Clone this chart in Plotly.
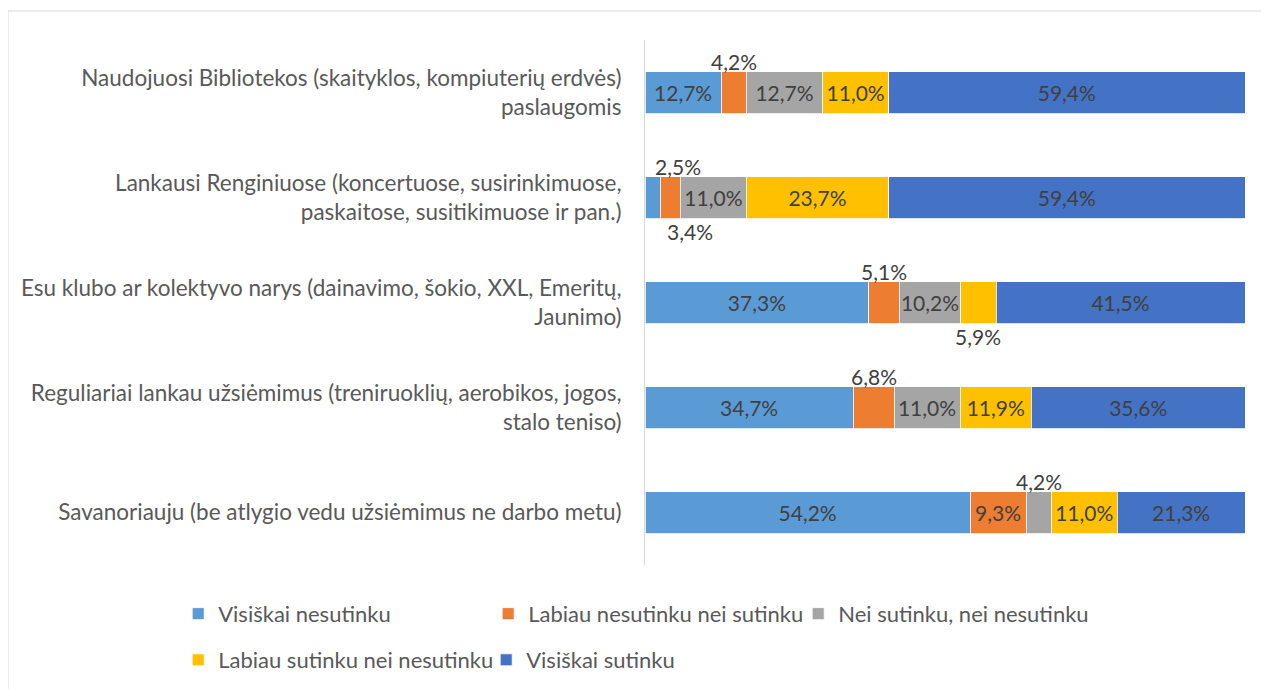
import plotly.graph_objects as go

categories = [
    "Naudojuosi Bibliotekos (skaityklos, kompiuterių erdvės)<br>paslaugomis",
    "Lankausi Renginiuose (koncertuose, susirinkimuose,<br>paskaitose, susitikimuose ir pan.)",
    "Esu klubo ar kolektyvo narys (dainavimo, šokio, XXL, Emeritų,<br>Jaunimo)",
    "Reguliariai lankau užsiėmimus (treniruoklių, aerobikos, jogos,<br>stalo teniso)",
    "Savanoriauju (be atlygio vedu užsiėmimus ne darbo metu)",
]
series_names = [
    "Visiškai nesutinku",
    "Labiau nesutinku nei sutinku",
    "Nei sutinku, nei nesutinku",
    "Labiau sutinku nei nesutinku",
    "Visiškai sutinku",
]
visiskai_nesutinku = [12.7, 2.5, 37.3, 34.7, 54.2]
labiau_nesutinku = [4.2, 3.4, 5.1, 6.8, 9.3]
nei_nei = [12.7, 11.0, 10.2, 11.0, 4.2]
labiau_sutinku = [11.0, 23.7, 5.9, 11.9, 11.0]
visiskai_sutinku = [59.4, 59.4, 41.5, 35.6, 21.3]

values = [visiskai_nesutinku, labiau_nesutinku, nei_nei, labiau_sutinku, visiskai_sutinku]
colors = ["#5B9BD5", "#ED7D31", "#A5A5A5", "#FFC000", "#4472C4"]

FONT = "Lato, 'Open Sans', sans-serif"
LABEL_MIN = 8.0


def pct(v):
    return f"{v:.1f}".replace(".", ",") + "%"


fig = go.Figure()
for i, (name, vals, col) in enumerate(zip(series_names, values, colors)):
    fig.add_trace(go.Bar(
        y=categories, x=vals, name=name, orientation="h",
        marker=dict(color=col, line=dict(color="white", width=0.8)),
        text=[pct(v) if v >= LABEL_MIN else "" for v in vals],
        textposition="inside", insidetextanchor="middle", textangle=0,
        textfont=dict(size=21, color="#404040", family=FONT),
        legend="legend" if i < 3 else "legend2",
        hoverinfo="skip",
    ))

# small segments get their label above / below the bar
below = {(1, 1), (2, 3)}
xshift = {(1, 0): 25, (1, 1): 20}
annotations = []
for r, cat in enumerate(categories):
    left = 0.0
    for s, vals in enumerate(values):
        v = vals[r]
        if v < LABEL_MIN:
            annotations.append(dict(
                x=left + v / 2, y=cat, xref="x", yref="y", text=pct(v),
                showarrow=False, yanchor="middle",
                yshift=-34 if (r, s) in below else 31,
                xshift=xshift.get((r, s), 0),
                font=dict(size=21, color="#404040", family=FONT),
            ))
        left += v

fig.update_layout(
    barmode="stack", bargap=0.6,
    width=1269, height=689,
    margin=dict(l=637, r=32, t=32, b=132),
    paper_bgcolor="white", plot_bgcolor="white",
    font=dict(family=FONT, color="#595959", size=22),
    uniformtext=dict(minsize=21, mode="show"),
    annotations=annotations,
    legend=dict(orientation="h", x=-0.778, xanchor="left", y=-0.093, yanchor="middle",
                entrywidth=265, font=dict(size=22, color="#595959"), traceorder="normal"),
    legend2=dict(orientation="h", x=-0.778, xanchor="left", y=-0.181, yanchor="middle",
                 entrywidth=263, font=dict(size=22, color="#595959"), traceorder="normal"),
    shapes=[dict(type="rect", xref="paper", yref="paper", x0=-1.0617, x1=1.06, y0=-0.3, y1=1.0552,
                 line=dict(color="#D9D9D9", width=1), layer="below")],
)
fig.update_xaxes(range=[0, 100], showticklabels=False, showgrid=False, zeroline=False,
                 fixedrange=True, automargin=False)
fig.update_yaxes(autorange="reversed", showline=True, linecolor="#D9D9D9", linewidth=1,
                 ticks="", ticklabelstandoff=18, automargin=False,
                 tickfont=dict(size=22.5, color="#595959"))

fig.write_html("out.html")
